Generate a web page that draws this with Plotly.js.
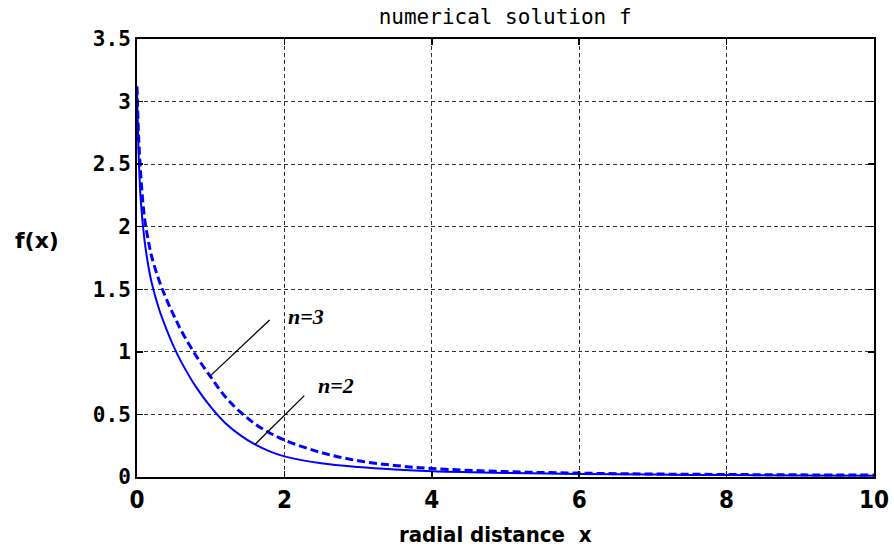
<!DOCTYPE html>
<html>
<head>
<meta charset="utf-8">
<script src="https://cdn.plot.ly/plotly-3.0.1.min.js"></script>
<style>html,body{margin:0;padding:0;background:#fff;}#chart{width:894px;height:552px;}</style>
</head>
<body>
<div id="chart"></div>
<script>
var xs = [0, 0.02, 0.05, 0.1, 0.15, 0.2, 0.3, 0.4, 0.5, 0.6, 0.8, 1.0, 1.2, 1.4, 1.6, 1.8, 2.0, 2.5, 3, 3.5, 4, 5, 6, 7, 8, 9, 10];
var fN2 = [3.12, 2.62, 2.22, 1.90, 1.70, 1.55, 1.34, 1.18, 1.04, 0.92, 0.72, 0.56, 0.43, 0.335, 0.26, 0.205, 0.165, 0.11, 0.08, 0.06, 0.046, 0.032, 0.024, 0.019, 0.015, 0.012, 0.010];
var fN3 = [3.12, 2.75, 2.42, 2.08, 1.90, 1.76, 1.57, 1.42, 1.29, 1.17, 0.97, 0.80, 0.64, 0.52, 0.425, 0.352, 0.295, 0.195, 0.13, 0.092, 0.068, 0.043, 0.031, 0.024, 0.020, 0.017, 0.015];
var xTicks = [0, 2, 4, 6, 8, 10];
var yTicks = [0, 0.5, 1, 1.5, 2, 2.5, 3, 3.5];
var labels = ["n=3", "n=2"];
var labelPos = [[2.29, 1.28], [2.70, 0.73]];
var leaderLines = [[1.80, 1.255, 0.98, 0.80], [2.27, 0.65, 1.60, 0.26]];

var traces = [
  {x: xs, y: fN2, mode: 'lines', line: {color: '#0000ff', width: 2, shape: 'spline', smoothing: 1}, name: 'n=2', hoverinfo: 'skip'},
  {x: xs, y: fN3, mode: 'lines', line: {color: '#0000ff', width: 3, dash: '8px,4px', shape: 'spline', smoothing: 1}, name: 'n=3', hoverinfo: 'skip'}
];

var shapes = leaderLines.map(function(l){
  return {type: 'line', xref: 'x', yref: 'y', x0: l[0], y0: l[1], x1: l[2], y1: l[3], line: {color: '#000', width: 1.3}};
});

var annotations = labels.map(function(t, i){
  return {x: labelPos[i][0], y: labelPos[i][1], xref: 'x', yref: 'y', text: '<b><i>' + t + '</i></b>', showarrow: false,
    font: {family: 'Liberation Serif, Times New Roman, serif', size: 22, color: '#000'}};
});
annotations.push({x: -0.136, y: 0.541, xref: 'paper', yref: 'paper', text: '<b>f(x)</b>', showarrow: false, xanchor: 'center', yanchor: 'middle',
  font: {family: 'DejaVu Sans, sans-serif', size: 22, color: '#000'}});
annotations.push({x: 0.486, y: -0.132, xref: 'paper', yref: 'paper', text: '<b>radial distance  x</b>', showarrow: false, xanchor: 'center', yanchor: 'middle',
  font: {family: 'DejaVu Sans Condensed, DejaVu Sans, sans-serif', size: 22, color: '#000'}});

var gridStyle = {showgrid: true, gridcolor: '#333', griddash: '4px,3px', gridwidth: 1};

var layout = {
  width: 894, height: 552,
  margin: {l: 137, r: 20, t: 39, b: 75},
  paper_bgcolor: '#fff', plot_bgcolor: '#fff',
  showlegend: false,
  title: {text: 'numerical solution f', x: 0.565, xanchor: 'center', y: 0.97, yanchor: 'middle',
    font: {family: 'DejaVu Sans Mono, monospace', size: 21, color: '#000'}},
  xaxis: Object.assign({
    range: [0, 10], tickvals: xTicks, ticktext: xTicks.map(String),
    showline: true, linecolor: '#000', linewidth: 2, mirror: 'ticks',
    ticks: 'inside', ticklen: 6, tickcolor: '#000', tickwidth: 1.5,
    zeroline: false,
    tickfont: {family: 'DejaVu Sans Condensed, DejaVu Sans, sans-serif', size: 24, color: '#000', weight: 'bold'}
  }, gridStyle),
  yaxis: Object.assign({
    range: [0, 3.5], tickvals: yTicks, ticktext: yTicks.map(String),
    showline: true, linecolor: '#000', linewidth: 2, mirror: 'ticks',
    ticks: 'inside', ticklen: 6, tickcolor: '#000', tickwidth: 1.5,
    zeroline: false,
    tickfont: {family: 'DejaVu Sans Mono, monospace', size: 21, color: '#000', weight: 'bold'}
  }, gridStyle),
  shapes: shapes,
  annotations: annotations
};

Plotly.newPlot('chart', traces, layout, {displayModeBar: false, staticPlot: true});
</script>
</body>
</html>
